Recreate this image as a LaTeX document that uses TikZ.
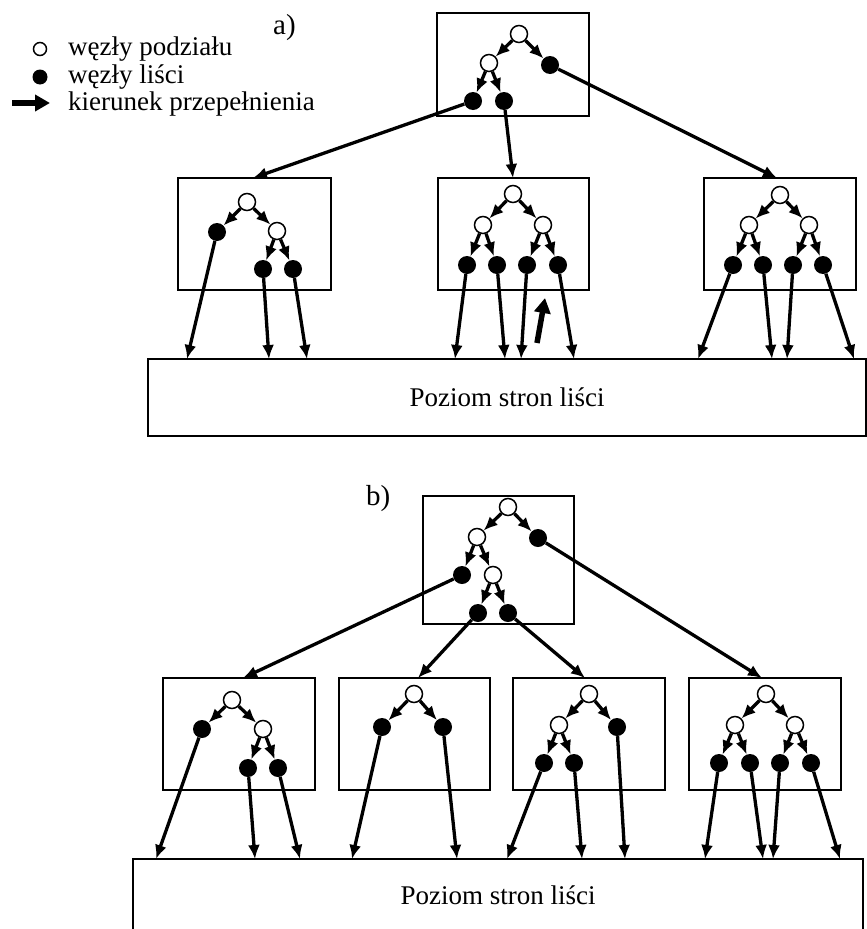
\documentclass[tikz,border=0pt]{standalone}
\usepackage{fontspec}
\setmainfont{Liberation Serif}
\usetikzlibrary{arrows.meta}
\begin{document}
\begin{tikzpicture}[x=1pt,y=-1pt,
 inn/.style={circle, draw, fill=white, line width=1.5pt, minimum size=17pt, inner sep=0pt},
 lf/.style={circle, fill=black, minimum size=18pt, inner sep=0pt},
 tedge/.style={line width=3.3pt, -{Latex[length=14pt,width=12pt]}},
 frame/.style={draw, line width=1.8pt, anchor=north west, inner sep=0pt, outer sep=0pt},
 ovf/.style={line width=5.5pt, -{Triangle[length=15pt,width=16pt]}},
 lbl/.style={font=\fontsize{27}{30}\selectfont, inner sep=0pt}]
\useasboundingbox (0,0) rectangle (867,929);

% ---------- legend ----------
\node[inn, minimum size=13pt] (lg1) at (40,49) {};
\node[lf, minimum size=15pt] (lg2) at (40,77) {};
\coordinate (lgA) at (12,103);
\coordinate (lgB) at (50,103);
\draw[ovf] (lgA) -- (lgB);
\node[lbl, anchor=base west] (lt1) at (68,55) {węzły podziału};
\node[lbl, anchor=base west] (lt2) at (68,83) {węzły liści};
\node[lbl, anchor=base west] (lt3) at (68,110) {kierunek przepełnienia};
\node[lbl, anchor=base west, font=\fontsize{29}{30}\selectfont] (la) at (273,34) {a)};

% ---------- part a ----------
\node[frame, minimum width=152pt, minimum height=103pt] (TA) at (437,13) {};
\node[inn] (ar) at (519,34) {};
\node[inn] (ai) at (489,63) {};
\node[lf] (al3) at (550,65) {};
\node[lf] (al1) at (473,101) {};
\node[lf] (al2) at (504,101) {};
\draw[tedge] (ar) -- (ai);
\draw[tedge] (ar) -- (al3);
\draw[tedge] (ai) -- (al1);
\draw[tedge] (ai) -- (al2);

\node[frame, minimum width=153pt, minimum height=112pt] (A1) at (178,178) {};
\node[frame, minimum width=151pt, minimum height=112pt] (A2) at (438,178) {};
\node[frame, minimum width=152pt, minimum height=112pt] (A3) at (704,178) {};
\coordinate (ia1) at (253,178);
\coordinate (ia2) at (513,178);
\coordinate (ia3) at (777,178);
\draw[tedge] (al1) -- (ia1);
\draw[tedge] (al2) -- (ia2);
\draw[tedge] (al3) -- (ia3);

% box A1
\node[inn] (p1r) at (247,202) {};
\node[lf] (p1a) at (217,232) {};
\node[inn] (p1i) at (277,231) {};
\node[lf] (p1b) at (263,269) {};
\node[lf] (p1c) at (293,269) {};
\draw[tedge] (p1r) -- (p1a);
\draw[tedge] (p1r) -- (p1i);
\draw[tedge] (p1i) -- (p1b);
\draw[tedge] (p1i) -- (p1c);
% box A2
\node[inn] (p2r) at (513,194) {};
\node[inn] (p2i) at (483,225) {};
\node[inn] (p2j) at (543,225) {};
\node[lf] (p2a) at (467,265) {};
\node[lf] (p2b) at (497,265) {};
\node[lf] (p2c) at (527,265) {};
\node[lf] (p2d) at (558,265) {};
\draw[tedge] (p2r) -- (p2i);
\draw[tedge] (p2r) -- (p2j);
\draw[tedge] (p2i) -- (p2a);
\draw[tedge] (p2i) -- (p2b);
\draw[tedge] (p2j) -- (p2c);
\draw[tedge] (p2j) -- (p2d);
% box A3
\node[inn] (p3r) at (780,195) {};
\node[inn] (p3i) at (749,225) {};
\node[inn] (p3j) at (809,225) {};
\node[lf] (p3a) at (733,265) {};
\node[lf] (p3b) at (763,265) {};
\node[lf] (p3c) at (793,265) {};
\node[lf] (p3d) at (823,265) {};
\draw[tedge] (p3r) -- (p3i);
\draw[tedge] (p3r) -- (p3j);
\draw[tedge] (p3i) -- (p3a);
\draw[tedge] (p3i) -- (p3b);
\draw[tedge] (p3j) -- (p3c);
\draw[tedge] (p3j) -- (p3d);

% leaf page level a
\node[frame, minimum width=718pt, minimum height=77pt] (PA) at (148,359) {};
\node[lbl, anchor=base] (PAt) at (507,406) {Poziom stron liści};
\coordinate (ta1) at (187,359);
\coordinate (ta2) at (269,359);
\coordinate (ta3) at (307,359);
\coordinate (ta4) at (455,359);
\coordinate (ta5) at (505,359);
\coordinate (ta6) at (521,359);
\coordinate (ta7) at (574,359);
\coordinate (ta8) at (698,359);
\coordinate (ta9) at (772,359);
\coordinate (ta10) at (787,359);
\coordinate (ta11) at (854,359);
\draw[tedge] (p1a) -- (ta1);
\draw[tedge] (p1b) -- (ta2);
\draw[tedge] (p1c) -- (ta3);
\draw[tedge] (p2a) -- (ta4);
\draw[tedge] (p2b) -- (ta5);
\draw[tedge] (p2c) -- (ta6);
\draw[tedge] (p2d) -- (ta7);
\draw[tedge] (p3a) -- (ta8);
\draw[tedge] (p3b) -- (ta9);
\draw[tedge] (p3c) -- (ta10);
\draw[tedge] (p3d) -- (ta11);
\coordinate (ov1) at (537,343);
\coordinate (ov2) at (545,298);
\draw[ovf] (ov1) -- (ov2);

% ---------- part b ----------
\node[lbl, anchor=base west, font=\fontsize{29}{30}\selectfont] (lb) at (366,505) {b)};
\node[frame, minimum width=151pt, minimum height=128pt] (TB) at (423,496) {};
\node[inn] (br) at (508,507) {};
\node[inn] (bi) at (477,537) {};
\node[lf] (bl4) at (538,538) {};
\node[lf] (bl1) at (462,575) {};
\node[inn] (bj) at (493,575) {};
\node[lf] (bl2) at (478,613) {};
\node[lf] (bl3) at (508,613) {};
\draw[tedge] (br) -- (bi);
\draw[tedge] (br) -- (bl4);
\draw[tedge] (bi) -- (bl1);
\draw[tedge] (bi) -- (bj);
\draw[tedge] (bj) -- (bl2);
\draw[tedge] (bj) -- (bl3);

\node[frame, minimum width=152pt, minimum height=112pt] (B1) at (163,678) {};
\node[frame, minimum width=151pt, minimum height=112pt] (B2) at (339,678) {};
\node[frame, minimum width=152pt, minimum height=112pt] (B3) at (513,678) {};
\node[frame, minimum width=152pt, minimum height=112pt] (B4) at (689,678) {};
\coordinate (ib1) at (243,678);
\coordinate (ib2) at (418,678);
\coordinate (ib3) at (585,678);
\coordinate (ib4) at (762,678);
\draw[tedge] (bl1) -- (ib1);
\draw[tedge] (bl2) -- (ib2);
\draw[tedge] (bl3) -- (ib3);
\draw[tedge] (bl4) -- (ib4);

% box B1
\node[inn] (q1r) at (232,700) {};
\node[lf] (q1a) at (202,729) {};
\node[inn] (q1i) at (263,729) {};
\node[lf] (q1b) at (248,768) {};
\node[lf] (q1c) at (278,768) {};
\draw[tedge] (q1r) -- (q1a);
\draw[tedge] (q1r) -- (q1i);
\draw[tedge] (q1i) -- (q1b);
\draw[tedge] (q1i) -- (q1c);
% box B2
\node[inn] (q2r) at (414,694) {};
\node[lf] (q2a) at (382,727) {};
\node[lf] (q2b) at (443,727) {};
\draw[tedge] (q2r) -- (q2a);
\draw[tedge] (q2r) -- (q2b);
% box B3
\node[inn] (q3r) at (589,694) {};
\node[inn] (q3i) at (559,725) {};
\node[lf] (q3c) at (617,727) {};
\node[lf] (q3a) at (544,763) {};
\node[lf] (q3b) at (574,763) {};
\draw[tedge] (q3r) -- (q3i);
\draw[tedge] (q3r) -- (q3c);
\draw[tedge] (q3i) -- (q3a);
\draw[tedge] (q3i) -- (q3b);
% box B4
\node[inn] (q4r) at (766,694) {};
\node[inn] (q4i) at (735,725) {};
\node[inn] (q4j) at (795,725) {};
\node[lf] (q4a) at (719,763) {};
\node[lf] (q4b) at (750,763) {};
\node[lf] (q4c) at (780,763) {};
\node[lf] (q4d) at (811,763) {};
\draw[tedge] (q4r) -- (q4i);
\draw[tedge] (q4r) -- (q4j);
\draw[tedge] (q4i) -- (q4a);
\draw[tedge] (q4i) -- (q4b);
\draw[tedge] (q4j) -- (q4c);
\draw[tedge] (q4j) -- (q4d);

% leaf page level b
\node[frame, minimum width=730pt, minimum height=81pt] (PB) at (133,859) {};
\node[lbl, anchor=base] (PBt) at (498,904) {Poziom stron liści};
\coordinate (tb1) at (156,859);
\coordinate (tb2) at (255,859);
\coordinate (tb3) at (300,859);
\coordinate (tb4) at (352,859);
\coordinate (tb5) at (457,859);
\coordinate (tb6) at (507,859);
\coordinate (tb7) at (582,859);
\coordinate (tb8) at (625,859);
\coordinate (tb9) at (705,859);
\coordinate (tb10) at (763,859);
\coordinate (tb11) at (773,859);
\coordinate (tb12) at (840,859);
\draw[tedge] (q1a) -- (tb1);
\draw[tedge] (q1b) -- (tb2);
\draw[tedge] (q1c) -- (tb3);
\draw[tedge] (q2a) -- (tb4);
\draw[tedge] (q2b) -- (tb5);
\draw[tedge] (q3a) -- (tb6);
\draw[tedge] (q3b) -- (tb7);
\draw[tedge] (q3c) -- (tb8);
\draw[tedge] (q4a) -- (tb9);
\draw[tedge] (q4b) -- (tb10);
\draw[tedge] (q4c) -- (tb11);
\draw[tedge] (q4d) -- (tb12);
\end{tikzpicture}
\end{document}
